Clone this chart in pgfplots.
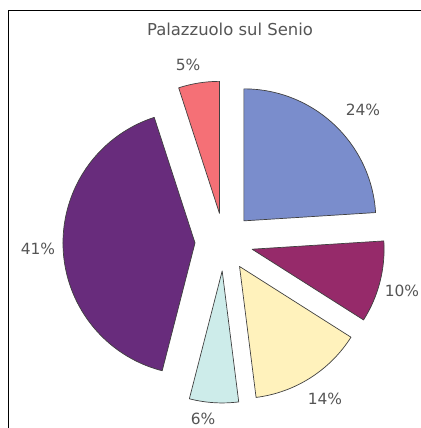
\documentclass[border=0pt]{standalone}
\usepackage{pgfplots}
\pgfplotsset{compat=1.18}
\usepackage{pgfplotstable}
\usepackage{fontspec}
\setmainfont{DejaVu Sans}
\definecolor{cA}{RGB}{122,141,204}
\definecolor{cB}{RGB}{150,42,106}
\definecolor{cC}{RGB}{255,242,188}
\definecolor{cD}{RGB}{205,236,234}
\definecolor{cE}{RGB}{104,44,124}
\definecolor{cF}{RGB}{245,112,118}
\definecolor{txt}{RGB}{85,85,85}
\newcommand{\lblfont}{\fontsize{15.5}{18}\selectfont}
\pgfplotstableread{
pct col lx ly
24 cA 139 132
10 cB 178 -49
14 cC 101 -157
6 cD -21 -177
41 cE -186 -7
5 cF -36 177
}\piedata

\begin{document}
\begin{tikzpicture}
\begin{axis}[name=ax, scale only axis, width=421bp, height=428bp,
  xmin=-224, xmax=197, ymin=-186, ymax=242, hide axis, clip=false]
\addplot[black, line width=0.8pt] coordinates {(-216,-186) (-216,232) (197,232)};
\def\cum{0}
\pgfplotsforeachungrouped \i in {0,...,5}{%
  \pgfplotstablegetelem{\i}{pct}\of\piedata \let\p\pgfplotsretval
  \pgfplotstablegetelem{\i}{col}\of\piedata \let\c\pgfplotsretval
  \pgfplotstablegetelem{\i}{lx}\of\piedata \let\lx\pgfplotsretval
  \pgfplotstablegetelem{\i}{ly}\of\piedata \let\ly\pgfplotsretval
  \pgfmathsetmacro\aa{90-3.6*\cum}%
  \pgfmathsetmacro\ab{\aa-3.6*\p}%
  \pgfmathsetmacro\am{(\aa+\ab)/2}%
  \pgfmathsetmacro\ox{29*cos(\am)}%
  \pgfmathsetmacro\oy{29*sin(\am)}%
  \edef\temp{\noexpand\filldraw[fill=\c, draw=black!75, line width=0.7pt, line join=round]
    (axis cs:\ox,\oy) -- ++(\aa:132bp) arc[start angle=\aa, end angle=\ab, radius=132bp] -- cycle;
    \noexpand\node[font=\noexpand\lblfont, text=txt] at (axis cs:\lx,\ly) {\p\noexpand\%};}%
  \temp
  \pgfmathsetmacro\cum{\cum+\p}%
}
\node[font=\fontsize{16.5}{19}\selectfont, text=txt] at (axis cs:6,213) {Palazzuolo sul Senio};
\end{axis}
\pgfresetboundingbox
\useasboundingbox (ax.south west) rectangle (ax.north east);
\end{tikzpicture}
\end{document}
